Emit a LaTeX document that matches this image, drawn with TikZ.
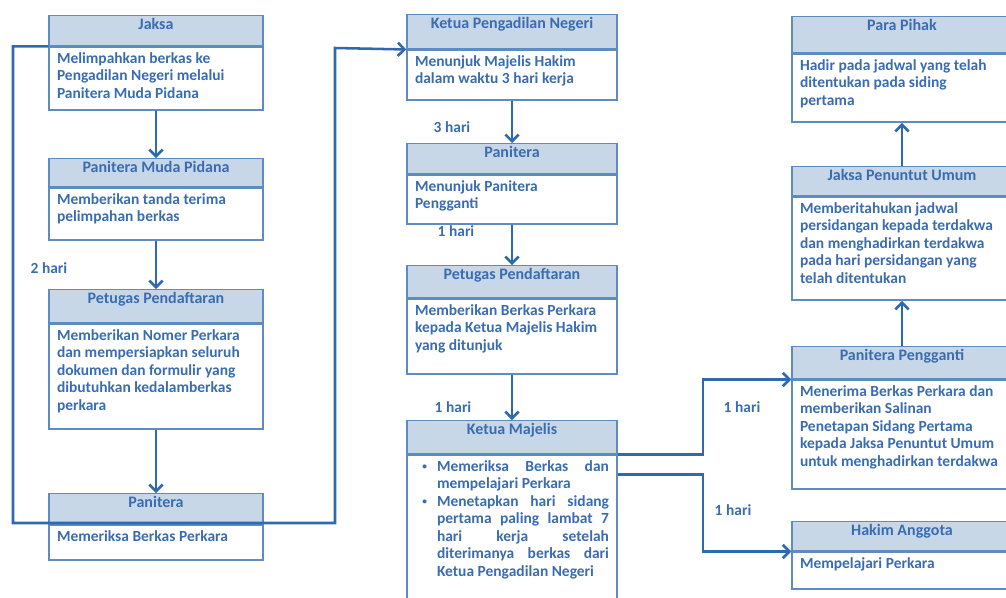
\documentclass[tikz,border=0pt]{standalone}
\usepackage{fontspec}
\setmainfont{Carlito}
\usetikzlibrary{arrows.meta, positioning}

\definecolor{lineblue}{RGB}{47,106,174}
\definecolor{boxblue}{RGB}{94,139,192}
\definecolor{hdrfill}{RGB}{200,215,232}
\definecolor{txtblue}{RGB}{58,108,176}

\newdimen\px \px=0.75pt
% box contents, width and height in pixels
\newcommand{\hdrtext}[3]{\parbox[c][\dimexpr#2\px-4pt\relax][t]{\dimexpr#1\px-12pt\relax}{\centering\fontsize{12}{13.1}\selectfont #3}}
\newcommand{\bodytext}[3]{\parbox[c][\dimexpr#2\px-8pt\relax][t]{\dimexpr#1\px-12pt\relax}{\raggedright #3}}
\newcommand{\listtext}[3]{\parbox[c][\dimexpr#2\px-8pt\relax][t]{\dimexpr#1\px-12pt\relax}{#3}}
\newcommand{\bullitem}[1]{\par\hangindent=16.5pt\hangafter=0\noindent\llap{\raisebox{1.5pt}{\fontsize{7}{7}\selectfont\textbullet}\hspace{7.5pt}}#1\par}

\tikzset{
  boxfont/.style={text=txtblue, font=\bfseries\fontsize{11.6}{13.1}\selectfont},
  hdr/.style={draw=boxblue, line width=1.1pt, fill=hdrfill, inner xsep=6pt, inner ysep=2pt, anchor=north, boxfont},
  bdy/.style={draw=boxblue, line width=1.1pt, fill=white, inner xsep=6pt, inner ysep=4pt, boxfont},
  link/.style={draw=lineblue, line width=1.9pt},
  flow/.style={link, -{Straight Barb[length=5pt, width=10pt]}},
  days/.style={boxfont}
}

\begin{document}
\begin{tikzpicture}[x=0.75pt, y=-0.75pt]
	\useasboundingbox (0,0) rectangle (1006,597);
	\clip (0,0) rectangle (1006,597);
	
	% Left column
	\node[hdr] (jaksaH) at (156,15) {\hdrtext{214}{30}{Jaksa}};
	\node[bdy, below=0pt of jaksaH] (jaksaB) {\bodytext{214}{63}{Melimpahkan berkas ke\\ Pengadilan Negeri melalui\\ Panitera Muda Pidana}};
	
	\node[hdr] (pmpH) at (156,158) {\hdrtext{214}{28}{Panitera Muda Pidana}};
	\node[bdy, below=0pt of pmpH] (pmpB) {\bodytext{214}{52}{Memberikan tanda terima\\ pelimpahan berkas}};
	
	\node[hdr] (ppH) at (156,289) {\hdrtext{214}{33}{Petugas Pendaftaran}};
	\node[bdy, below=0pt of ppH] (ppB) {\bodytext{214}{105}{Memberikan Nomer Perkara\\ dan mempersiapkan seluruh\\ dokumen dan formulir yang\\ dibutuhkan kedalamberkas\\ perkara}};
	
	\node[hdr] (panH) at (156,493) {\hdrtext{214}{30}{Panitera}};
	\node[bdy, below=0pt of panH] (panB) {\bodytext{214}{35}{Memeriksa Berkas Perkara}};
	
	% Middle column
	\node[hdr] (kpnH) at (512,14) {\hdrtext{210}{34}{Ketua Pengadilan Negeri}};
	\node[bdy, below=0pt of kpnH] (kpnB) {\bodytext{210}{50}{Menunjuk Majelis Hakim\\ dalam waktu 3 hari kerja}};
	
	\node[hdr] (panmH) at (512,143) {\hdrtext{210}{30}{Panitera}};
	\node[bdy, below=0pt of panmH] (panmB) {\bodytext{210}{49}{Menunjuk Panitera\\ Pengganti}};
	
	\node[hdr] (petmH) at (512,265) {\hdrtext{210}{32}{Petugas Pendaftaran}};
	\node[bdy, below=0pt of petmH] (petmB) {\bodytext{210}{75}{Memberikan Berkas Perkara\\ kepada Ketua Majelis Hakim\\ yang ditunjuk}};
	
	\node[hdr] (kmH) at (512,420) {\hdrtext{210}{33}{Ketua Majelis}};
	\node[bdy, below=0pt of kmH] (kmB) {\listtext{210}{167}{%
		\bullitem{Memeriksa Berkas dan\linebreak mempelajari Perkara}%
		\bullitem{Menetapkan hari sidang\linebreak pertama paling lambat 7\linebreak hari kerja setelah\linebreak diterimanya berkas dari\linebreak Ketua Pengadilan Negeri}}};
	
	% Right column
	\node[hdr] (ppkH) at (902,16) {\hdrtext{220}{36}{Para Pihak}};
	\node[bdy, below=0pt of ppkH] (ppkB) {\bodytext{220}{68}{Hadir pada jadwal yang telah\\ ditentukan pada siding\\ pertama}};
	
	\node[hdr] (jpuH) at (902,166) {\hdrtext{220}{29}{Jaksa Penuntut Umum}};
	\node[bdy, below=0pt of jpuH] (jpuB) {\bodytext{220}{103}{Memberitahukan jadwal\\ persidangan kepada terdakwa\\ dan menghadirkan terdakwa\\ pada hari persidangan yang\\ telah ditentukan}};
	
	\node[hdr] (pgH) at (902,346) {\hdrtext{220}{32}{Panitera Pengganti}};
	\node[bdy, below=0pt of pgH] (pgB) {\bodytext{220}{109}{Menerima Berkas Perkara dan\\ memberikan Salinan\\ Penetapan Sidang Pertama\\ kepada Jaksa Penuntut Umum\\ untuk menghadirkan terdakwa}};
	
	\node[hdr] (haH) at (902,521) {\hdrtext{220}{29}{Hakim Anggota}};
	\node[bdy, below=0pt of haH] (haB) {\bodytext{220}{37}{Mempelajari Perkara}};
	
	% Arrows down the columns
	\draw[flow] (jaksaB.south) -- (pmpH.north);
	\draw[flow] (pmpB.south) -- (ppH.north);
	\draw[flow] (ppB.south) -- (panH.north);
	\draw[flow] (kpnB.south) -- (panmH.north);
	\draw[flow] (panmB.south) -- (petmH.north);
	\draw[flow] (petmB.south) -- (kmH.north);
	\draw[flow] (pgH.north) -- (jpuB.south);
	\draw[flow] (jpuH.north) -- (ppkB.south);
	
	% Loop from the left column to the middle one
	\coordinate (loopL) at (13,523);
	\coordinate (loopR) at (335,48);
	\draw[flow] (jaksaH.south west) -| (loopL) -| (loopR) -- (kpnH.south west);
	
	% Split to the right column
	\coordinate (split) at (703,0);
	\draw[flow] (kmH.south east) -| (split |- pgH.south west) -- (pgH.south west);
	\draw[flow] ([yshift=-15pt]kmB.north east) -| (split |- haH.south west) -- (haH.south west);
	
	% Durations
	\node[days] (d2) at (49,268) {2 hari};
	\node[days] (d3) at (452,127) {3 hari};
	\node[days] (d1a) at (456,231) {1 hari};
	\node[days] (d1b) at (453,407) {1 hari};
	\node[days] (d1c) at (742,407) {1 hari};
	\node[days] (d1d) at (733,510) {1 hari};
	
\end{tikzpicture}
\end{document}
